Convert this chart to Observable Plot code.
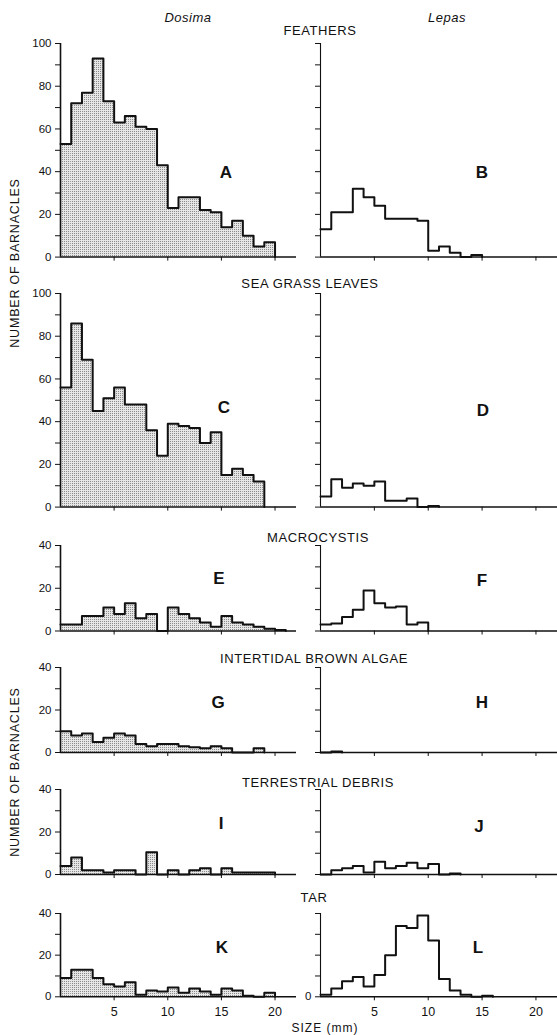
<!DOCTYPE html>
<html><head><meta charset="utf-8">
<script src="https://cdn.jsdelivr.net/npm/d3@7"></script>
<script src="https://cdn.jsdelivr.net/npm/@observablehq/plot@0.6"></script>
<style>
body{margin:0;background:#fff;}
#chart{position:relative;width:557px;height:1035px;overflow:hidden;font-family:"Liberation Sans",Arial,sans-serif;color:#111;}
.lbl{position:absolute;transform:translate(-50%,-50%);white-space:nowrap;line-height:1;}
.ttl{font-size:13px;letter-spacing:0.6px;}
.sp{font-size:13px;font-style:italic;letter-spacing:0.5px;}
.let{font-size:17px;font-weight:bold;}
.panel{position:absolute;}
</style></head><body>
<svg width="0" height="0" style="position:absolute"><defs>
<pattern id="stip" width="2" height="2" patternUnits="userSpaceOnUse"><rect width="2" height="2" fill="#e6e6e6"/><rect width="1" height="1" fill="#8a8a8a"/></pattern>
</defs></svg>
<div id="chart"></div>
<script>
// Data: counts per 1-mm size class (0-1, 1-2, ...)
const feathersDosima = [53,72,77,93,73,63,66,61,60,43,23,28,28,22,21,14,17,10,5,7];
const feathersLepas  = [13,21,21,32,28,24,18,18,18,17,3,5,2,0,1];
const seagrassDosima = [56,86,69,45,51,56,48,48,36,24,39,38,37,30,35,15,18,15,12];
const seagrassLepas  = [5,13,9,11,10,12,3,3,4,0,0.5];
const macroDosima    = [3,3,7,7,11,8,13,6,8,0,11,8,6,4,2,7,4,3,2,1,0.5];
const macroLepas     = [3,3.5,6.5,10,19,13,11,11.5,3,4];
const algaeDosima    = [10,8,9,5,7,9,8,4,3,4,4,3,2.5,2,3,2,0,0,2];
const algaeLepas     = [0,0.5];
const debrisDosima   = [4,8,2,2,1,2,2,0,10.5,0,2,0,2,3,0,3,1,1,1,1];
const debrisLepas    = [0,2,3,4,1,6,3,4,5.5,3,5,0,0.5];
const tarDosima      = [9,13,13,9,6,5,7,1,3,2.5,4.5,2,4,2.5,1,4,3,0.5,0,2];
const tarLepas       = [1,4,7.5,9.5,5,10.5,20,34,33,39,27,8.5,3,1,0,0.5];
const xTicks = [5,10,15,20];
const sizeDomain = [0,22];
const categories = ["FEATHERS","SEA GRASS LEAVES","MACROCYSTIS","INTERTIDAL BROWN ALGAE","TERRESTRIAL DEBRIS","TAR"];
const panelLetters = [["A","B"],["C","D"],["E","F"],["G","H"],["I","J"],["K","L"]];
const seriesByRow = [[feathersDosima,feathersLepas],[seagrassDosima,seagrassLepas],[macroDosima,macroLepas],[algaeDosima,algaeLepas],[debrisDosima,debrisLepas],[tarDosima,tarLepas]];
const rowMax = [100,100,40,40,40,40];

// layout
const rows = [
  {top:42.7, zero:256.3},{top:292.7, zero:506.3},{top:545, zero:630.5},
  {top:667.3, zero:752.3},{top:789.3, zero:874.3},{top:912.7, zero:996}
];
const titlePos = [[320,30],[310,283],[318,537],[314,658],[318,782],[314,897]];
const letterPos = [[[226,172],[482,172]],[[224,407],[483,410]],[[219,578],[482,580]],[[218,702],[482,702]],[[221,823],[479,826]],[[222,947],[478,947]]];

const chart = document.getElementById("chart");
function addLabel(text, x, y, cls, extra) {
  const d = document.createElement("div");
  d.className = "lbl " + cls;
  d.textContent = text;
  d.style.left = x + "px"; d.style.top = y + "px";
  if (extra) Object.assign(d.style, extra);
  chart.appendChild(d);
}

function panel(values, row, col) {
  const g = rows[row];
  const max = rowMax[row];
  const bottom = row === rows.length - 1;
  const mt = 6, mb = bottom ? 30 : 10;
  const h = mt + (g.zero - g.top) + mb;
  const left = col === 0 ? 0 : 260;
  const width = col === 0 ? 300 : 297;
  const bins = values.map((v,i)=>({x1:i, x2:i+1, y:v}));
  const pts = values.map((v,i)=>({x:i, y:v})).concat([{x:values.length, y:0}]);
  const yticks = d3.range(0, max+1, 10);
  const marks = [];
  if (col === 0) marks.push(Plot.rectY(bins, {x1:"x1", x2:"x2", y:"y", fill:"url(#stip)"}));
  marks.push(Plot.ruleY([0], {stroke:"#111", strokeWidth:1.5}));
  marks.push(Plot.ruleX([0], {stroke:"#111", strokeWidth: col ? 1.1 : 1.6}));
  marks.push(Plot.line(pts, {x:"x", y:"y", curve:"step-after", stroke:"#111", strokeWidth:2}));
  marks.push(Plot.axisY({ticks: yticks, tickSize:5, tickPadding:4, fontSize:11.5,
    tickFormat: d => (col===0 && d%20===0) ? String(d) : ((col===1 && bottom && d===0) ? "0" : "")}));
  marks.push(Plot.axisX({ticks: xTicks, tickSize:4, tickPadding:6, fontSize:12.5,
    tickFormat: d => bottom ? String(d) : ""}));
  const p = Plot.plot({
    width, height: h,
    marginLeft: 60, marginRight: col === 0 ? 4 : 0, marginTop: mt, marginBottom: mb,
    x: {domain: sizeDomain, label: null},
    y: {domain: [0, max], label: null},
    style: {fontFamily: '"Liberation Sans", Arial, sans-serif', color: "#111", background: "transparent", overflow: "visible"},
    marks
  });
  p.classList.add("panel");
  p.style.left = left + "px";
  p.style.top = (g.top - mt) + "px";
  chart.appendChild(p);
}

seriesByRow.forEach((pair, r) => pair.forEach((vals, c) => panel(vals, r, c)));

categories.forEach((t, i) => addLabel(t, titlePos[i][0], titlePos[i][1], "ttl"));
panelLetters.forEach((pair, r) => pair.forEach((l, c) => addLabel(l, letterPos[r][c][0], letterPos[r][c][1], "let")));
addLabel("Dosima", 188, 17, "sp");
addLabel("Lepas", 447, 17, "sp");
addLabel("NUMBER OF BARNACLES", 15, 263, "ttl", {transform:"translate(-50%,-50%) rotate(-90deg)", fontSize:"12.5px", letterSpacing:"0.8px"});
addLabel("NUMBER OF BARNACLES", 15, 772, "ttl", {transform:"translate(-50%,-50%) rotate(-90deg)", fontSize:"12.5px", letterSpacing:"0.8px"});
addLabel("SIZE (mm)", 325, 1028, "ttl", {fontSize:"12px", letterSpacing:"1px"});
</script>
</body></html>
